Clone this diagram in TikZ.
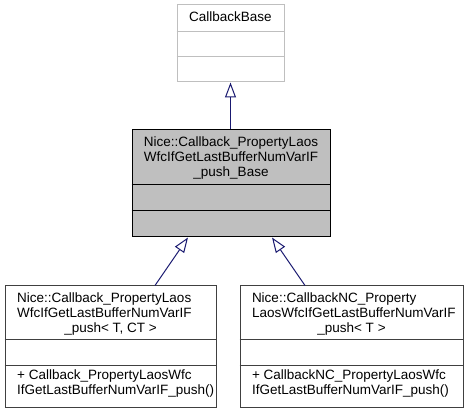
\documentclass[tikz,border=0pt]{standalone}
\usepackage{fontspec}
\setmainfont{Liberation Sans}
\usetikzlibrary{arrows.meta}
\definecolor{midnight}{HTML}{191970}
\definecolor{grey75}{HTML}{BFBFBF}
\definecolor{edgegrey}{HTML}{404040}

\begin{document}
\begin{tikzpicture}[x=1pt, y=-1pt, line width=1pt, font=\fontsize{13.5}{15}\selectfont]
	\tikzset{cls/.style={rectangle, draw=edgegrey, fill=white, inner sep=0pt},
		txt/.style={inner sep=0pt},
		inherit/.style={draw=midnight, -{Triangle[open, length=15pt, width=11pt]}}}
	\useasboundingbox (0,0) rectangle (467,412);
	% class boxes
	\node [cls, draw=grey75, minimum width=107pt, minimum height=77pt] (base) at (230.5,43.5) {};
	\node [cls, draw=black, fill=grey75, minimum width=198pt, minimum height=107pt] (pbase) at (231,183.5) {};
	\node [cls, minimum width=211pt, minimum height=121pt] (pushct) at (110.5,346.5) {};
	\node [cls, minimum width=223pt, minimum height=121pt] (pushnc) at (351.5,346.5) {};
	% compartments
	\draw [grey75] ([yshift=-27pt]base.north west) -- ([yshift=-27pt]base.north east);
	\draw [grey75] ([yshift=-52pt]base.north west) -- ([yshift=-52pt]base.north east);
	\draw ([yshift=-55pt]pbase.north west) -- ([yshift=-55pt]pbase.north east);
	\draw ([yshift=-81pt]pbase.north west) -- ([yshift=-81pt]pbase.north east);
	\foreach \cl in {pushct, pushnc} {
		\draw [edgegrey] ([yshift=-54pt]\cl.north west) -- ([yshift=-54pt]\cl.north east);
		\draw [edgegrey] ([yshift=-80pt]\cl.north west) -- ([yshift=-80pt]\cl.north east);
	}
	% names
	\node [txt, anchor=base] (basename) at (230.5,22) {CallbackBase};
	\node [txt, anchor=base] (pbasea) at (231,147) {Nice::Callback\_PropertyLaos};
	\node [txt, anchor=base] (pbaseb) at (231,162) {WfcIfGetLastBufferNumVarIF};
	\node [txt, anchor=base] (pbasec) at (231,177) {\_push\_Base};
	\node [txt, anchor=base west] (pushcta) at (16.7,303) {Nice::Callback\_PropertyLaos};
	\node [txt, anchor=base west] (pushctb) at (16.7,318) {WfcIfGetLastBufferNumVarIF};
	\node [txt, anchor=base] (pushctc) at (110.5,333) {\_push< T, CT >};
	\node [txt, anchor=base west] (pushctm) at (16.7,380) {+ Callback\_PropertyLaosWfc};
	\node [txt, anchor=base west] (pushctn) at (16.7,395) {IfGetLastBufferNumVarIF\_push()};
	\node [txt, anchor=base west] (pushnca) at (251.5,303) {Nice::CallbackNC\_Property};
	\node [txt, anchor=base west] (pushncb) at (251.5,318) {LaosWfcIfGetLastBufferNumVarIF};
	\node [txt, anchor=base] (pushncc) at (351.5,333) {\_push< T >};
	\node [txt, anchor=base west] (pushncm) at (251.5,380) {+ CallbackNC\_PropertyLaosWfc};
	\node [txt, anchor=base west] (pushncn) at (251.5,395) {IfGetLastBufferNumVarIF\_push()};
	% inheritance
	\draw [inherit] (base.south |- pbase.north) -- (base.south);
	\draw [inherit] ([xshift=44.5pt]pushct.north) -- ([xshift=-43pt]pbase.south);
	\draw [inherit] ([xshift=-46.5pt]pushnc.north) -- ([xshift=41pt]pbase.south);
\end{tikzpicture}
\end{document}
